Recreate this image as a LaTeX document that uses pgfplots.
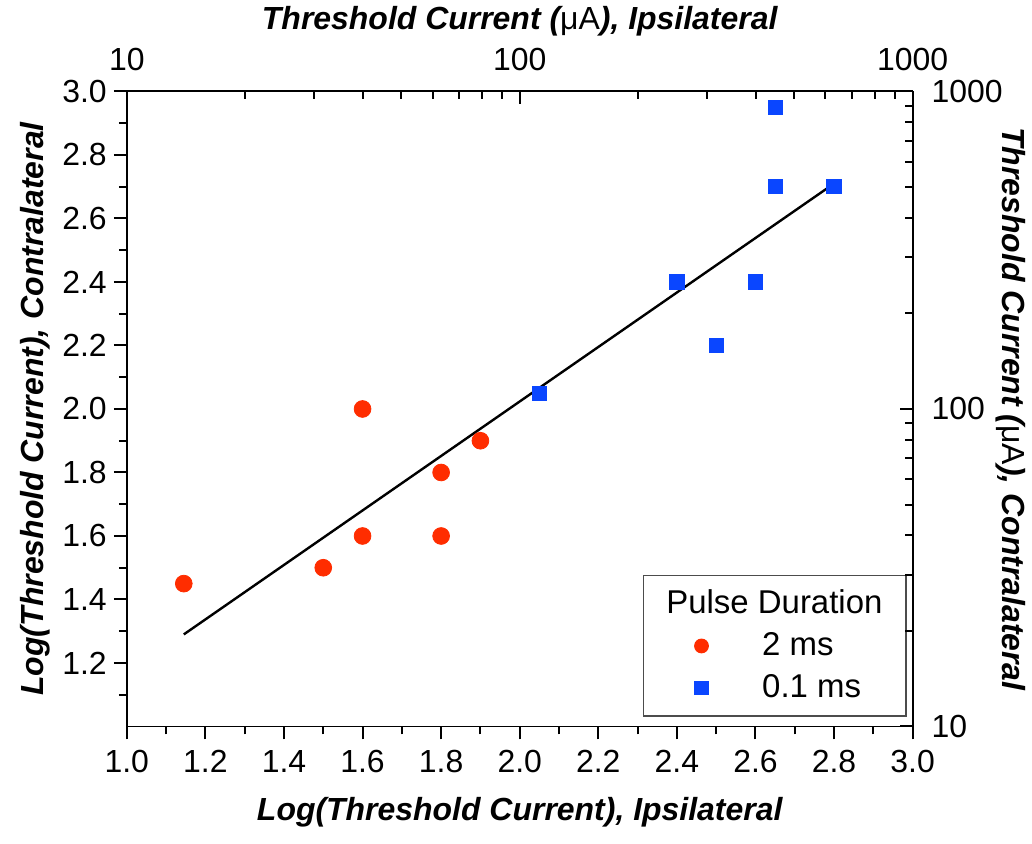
\documentclass[border=0pt]{standalone}
\usepackage{pgfplots}
\pgfplotsset{compat=1.18}
\usepackage{fontspec}
\setmainfont{Liberation Sans}
\definecolor{ptred}{RGB}{255,45,0}
\definecolor{ptblue}{RGB}{10,70,255}
\newcommand{\tickfont}{\fontsize{16}{19}\selectfont}
\newcommand{\labfont}{\fontsize{16}{19}\selectfont\bfseries\itshape}
\begin{document}
\begin{tikzpicture}
\path (-63.5pt,-58.5pt) rectangle (452.5pt,363pt);
\begin{axis}[
  at={(0pt,0pt)}, anchor=south west,
  width=393.5pt, height=318pt, scale only axis,
  xmin=1, xmax=3, ymin=1, ymax=3,
  axis x line*=bottom, axis y line*=left,
  axis line style={line width=1pt, -},
  tick align=outside,
  major tick length=6.5pt, minor tick length=4pt,
  every tick/.style={black, line width=1pt},
  xtick={1.0,1.2,...,3.01}, minor xtick={1.1,1.3,...,2.95},
  ytick={1.2,1.4,...,3.01}, minor ytick={1.1,1.3,...,2.95},
  tick label style={font=\tickfont},
  xticklabel style={yshift=-2pt},
  /pgf/number format/fixed, /pgf/number format/fixed zerofill,
  /pgf/number format/precision=1, /pgf/number format/assume math mode=true,
  xlabel={Log(Threshold Current), Ipsilateral},
  ylabel={Log(Threshold Current), Contralateral},
  xlabel style={font=\labfont, at={(axis description cs:0.5,0)}, anchor=center, yshift=-43pt},
  ylabel style={font=\labfont, at={(axis description cs:-0.117,0.5)}, anchor=center},
  legend style={at={(axis description cs:1,0)}, anchor=south east, xshift=-3pt, yshift=5pt,
    draw=black!70, line width=0.6pt, fill=white, font=\fontsize{16.5}{19}\selectfont,
    inner xsep=20.5pt, inner ysep=5.5pt, row sep=4pt,
    /tikz/every odd column/.append style={column sep=25pt}},
  legend image post style={mark size=3.4pt},
  legend cell align=left,
]
\addlegendimage{empty legend}
\addlegendentry{\makebox[49.5pt][l]{\hspace{-48pt}Pulse Duration}}
\addplot[only marks, mark=*, mark size=4.2pt, color=ptred, mark options={draw=ptred, fill=ptred}] coordinates {
(1.145,1.45) (1.5,1.5) (1.6,1.6) (1.6,2.0) (1.8,1.6) (1.8,1.8) (1.9,1.9)
};
\addlegendentry{2 ms}
\addplot[only marks, mark=square*, mark size=3.6pt, color=ptblue, mark options={draw=ptblue, fill=ptblue}] coordinates {
(2.05,2.05) (2.4,2.4) (2.5,2.2) (2.6,2.4) (2.65,2.7) (2.65,2.95) (2.8,2.7)
};
\addlegendentry{0.1 ms}
\addplot[black, line width=1.2pt, forget plot] coordinates {(1.145,1.29) (2.8,2.71)};
\end{axis}
\begin{axis}[
  at={(0pt,0pt)}, anchor=south west,
  width=393.5pt, height=318pt, scale only axis,
  xmode=log, ymode=log,
  xmin=10, xmax=1000, ymin=10, ymax=1000,
  axis x line*=top, axis y line*=right,
  axis line style={line width=1pt, -},
  tick align=inside,
  major tick length=6.5pt, minor tick length=4pt,
  every tick/.style={black, line width=1pt},
  xtick={10,100,1000}, xticklabels={10,100,1000},
  ytick={10,100,1000}, yticklabels={10,100,1000},
  tick label style={font=\tickfont},
  xticklabel style={yshift=7pt},
  yticklabel style={xshift=6pt},
  xlabel={Threshold Current ({\upshape\mdseries μA}), Ipsilateral},
  ylabel={Threshold Current ({\upshape\mdseries μA}), Contralateral},
  xlabel style={font=\labfont, at={(axis description cs:0.5,1)}, anchor=center, yshift=35pt},
  ylabel style={font=\labfont, at={(axis description cs:1.1245,0.5)}, anchor=center, rotate=180},
]
\addplot[draw=none, forget plot] coordinates {(10,10)};
\end{axis}
\end{tikzpicture}
\end{document}
